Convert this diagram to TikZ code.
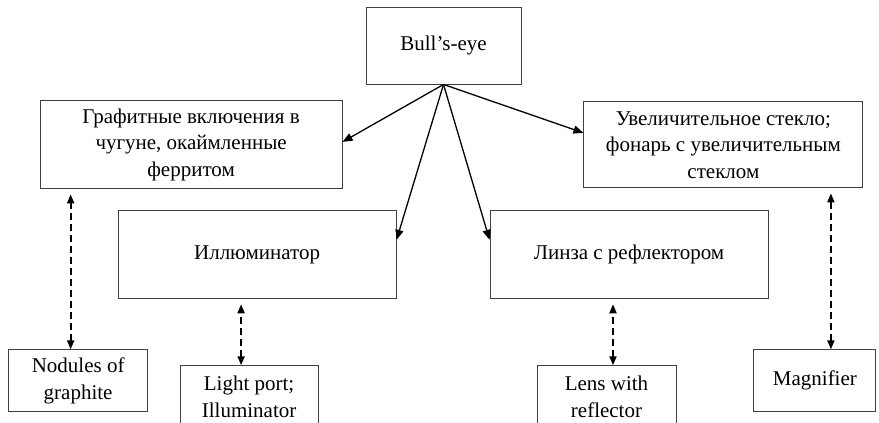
\documentclass[tikz,border=0pt]{standalone}
\usepackage{fontspec}
\setmainfont{Liberation Serif}
\usetikzlibrary{positioning,arrows.meta}
\tikzstyle{termbox} = [rectangle, draw=black!75, line width=0.9pt, align=center, inner sep=2pt]
\tikzstyle{ruterm} = [termbox, minimum width=278pt, minimum height=88pt]
\tikzstyle{enterm} = [termbox, minimum width=139pt, minimum height=62pt]
\tikzstyle{linkarrow} = [line width=1.3pt, -{Triangle[length=10pt,width=8pt]}]
\tikzstyle{dasharrow} = [line width=1.9pt, dash pattern=on 7pt off 4pt, {Triangle[length=9pt,width=7pt]}-{Triangle[length=9pt,width=7pt]}, shorten >=5pt]

\begin{document}
\begin{tikzpicture}[x=1pt, y=1pt, font=\fontsize{21}{26.5}\selectfont] % sizes in points, one per pixel

\useasboundingbox (0,0) rectangle (879,-423);

% The source term and its Russian renderings
\node(bull)      [termbox, minimum width=155pt, minimum height=77pt] at (443.5,-45.5) {Bull’s-eye};
\node(graf)      [ruterm, minimum width=302pt, below left=16pt and 23pt of bull]    {Графитные включения в\\чугуне, окаймленные\\ферритом};
\node(uvel)      [ruterm, minimum width=279pt, minimum height=86pt, below right=17pt and 62pt of bull] {Увеличительное стекло;\\фонарь с увеличительным\\стеклом};
\node(illum)     [ruterm, below right=21pt and 78pt of graf.south west]            {Иллюминатор};
\node(linza)     [ruterm, right=93pt of illum]                                     {Линза с рефлектором};

% English back-translations
\node(nodules)   [enterm, below=160pt of graf.south west, xshift=38.5pt]           {Nodules of\\graphite};
\node(lightport) [enterm, minimum width=138pt, below=66pt of illum, xshift=-8pt]   {Light port;\\Illuminator};
\node(lens)      [enterm, below=66pt of linza, xshift=-22.5pt]                     {Lens with\\reflector};
\node(magnifier) [enterm, minimum width=122pt, below=161pt of uvel, xshift=91.5pt] {Magnifier};

\coordinate (nodx)  at ([xshift=-7.5pt]nodules.north);
\coordinate (lightx) at ([xshift=-8pt]lightport.north);
\coordinate (lensx) at ([xshift=6.5pt]lens.north);
\coordinate (magx)  at ([xshift=16pt]magnifier.north);

% Solid arrows from the source term
\draw [linkarrow] (bull.south) -- ([yshift=3pt]graf.east);
\draw [linkarrow] (bull.south) -- ([yshift=15pt]illum.east);
\draw [linkarrow] (bull.south) -- ([yshift=15pt]linza.west);
\draw [linkarrow] (bull.south) -- ([yshift=12pt]uvel.west);

% Dashed links to the back-translations
\draw [dasharrow] (nodx)   -- (nodx |- graf.south);
\draw [dasharrow] (lightx) -- (lightx |- illum.south);
\draw [dasharrow] (lensx)  -- (lensx |- linza.south);
\draw [dasharrow] (magx)   -- (magx |- uvel.south);

\end{tikzpicture}
\end{document}
